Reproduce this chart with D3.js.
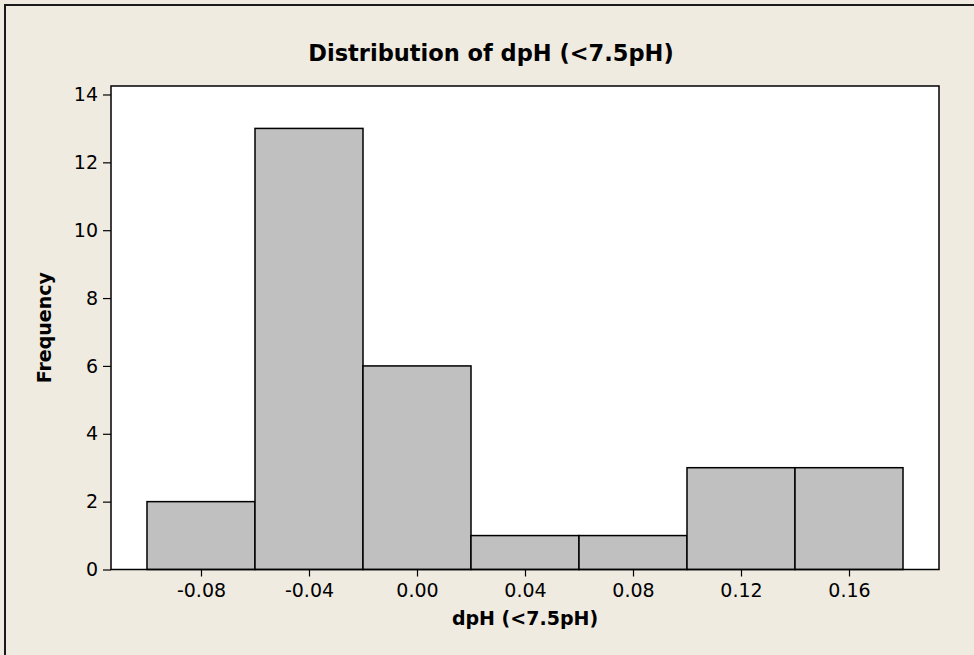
<!DOCTYPE html>
<html>
<head>
<meta charset="utf-8">
<script src="https://cdn.jsdelivr.net/npm/d3@7"></script>
<style>
  html, body { margin: 0; padding: 0; background: #efebe1; }
  svg { display: block; }
  text { font-family: Tahoma, "DejaVu Sans", Verdana, sans-serif; fill: #000; }
</style>
</head>
<body>
<svg id="chart" width="974" height="655"></svg>
<script>
// Histogram bins of dpH (<7.5pH): bin edges and counts
const binStarts = [-0.10, -0.06, -0.02, 0.02, 0.06, 0.10, 0.14];
const binWidth = 0.04;
const counts = [2, 13, 6, 1, 1, 3, 3];
const xTicks = [-0.08, -0.04, 0.00, 0.04, 0.08, 0.12, 0.16];
const yTicks = [0, 2, 4, 6, 8, 10, 12, 14];

const titleText = "Distribution of dpH (<7.5pH)";
const xLabel = "dpH (<7.5pH)";
const yLabel = "Frequency";

const W = 974, H = 655;
const plot = { left: 111, top: 86, right: 939, bottom: 569.5 };

const svg = d3.select("#chart");

// Background and outer frame (top and left edges)
svg.append("rect").attr("width", W).attr("height", H).attr("fill", "#efebe1");
svg.append("path")
  .attr("d", `M5,${H} L5,5 L${W},5`)
  .attr("fill", "none").attr("stroke", "#1a1a1a").attr("stroke-width", 2);

const x = d3.scaleLinear().domain([-0.11333, 0.19333]).range([plot.left, plot.right]);
const y = d3.scaleLinear().domain([0, 14.25]).range([plot.bottom, plot.top]);

// Plot area
svg.append("rect")
  .attr("x", plot.left).attr("y", plot.top)
  .attr("width", plot.right - plot.left).attr("height", plot.bottom - plot.top)
  .attr("fill", "#ffffff");

// Bars
svg.append("g").selectAll("rect")
  .data(binStarts.map((s, i) => ({ s, c: counts[i] })))
  .join("rect")
  .attr("x", d => x(d.s))
  .attr("y", d => y(d.c))
  .attr("width", d => x(d.s + binWidth) - x(d.s))
  .attr("height", d => y(0) - y(d.c))
  .attr("fill", "#c0c0c0")
  .attr("stroke", "#000")
  .attr("stroke-width", 1.5);

// Plot frame
svg.append("rect")
  .attr("x", plot.left).attr("y", plot.top)
  .attr("width", plot.right - plot.left).attr("height", plot.bottom - plot.top)
  .attr("fill", "none").attr("stroke", "#000").attr("stroke-width", 1.5);

// Axes
const xAxis = d3.axisBottom(x).tickValues(xTicks).tickFormat(d3.format(".2f"))
  .tickSize(7).tickPadding(7);
const gx = svg.append("g").attr("transform", `translate(0,${plot.bottom})`).call(xAxis);
gx.select(".domain").remove();
gx.selectAll(".tick line").attr("stroke", "#000").attr("stroke-width", 1.2);
gx.selectAll(".tick text").style("font-size", "19px")
  .text(d => d < 0 ? "-" + d3.format(".2f")(-d) : d3.format(".2f")(d));

const yAxis = d3.axisLeft(y).tickValues(yTicks).tickFormat(d3.format("d"))
  .tickSize(8).tickPadding(5);
const gy = svg.append("g").attr("transform", `translate(${plot.left},0)`).call(yAxis);
gy.select(".domain").remove();
gy.selectAll(".tick line").attr("stroke", "#000").attr("stroke-width", 1.2);
gy.selectAll(".tick text").style("font-size", "19px");

// Titles
svg.append("text")
  .attr("x", 491).attr("y", 61)
  .attr("text-anchor", "middle")
  .style("font-size", "22.5px").style("font-weight", "bold")
  .text(titleText);

svg.append("text")
  .attr("x", (plot.left + plot.right) / 2).attr("y", 625)
  .attr("text-anchor", "middle")
  .style("font-size", "19px").style("font-weight", "bold")
  .text(xLabel);

svg.append("text")
  .attr("transform", `translate(51,${(plot.top + plot.bottom) / 2}) rotate(-90)`)
  .attr("text-anchor", "middle")
  .style("font-size", "19px").style("font-weight", "bold")
  .text(yLabel);
</script>
</body>
</html>
